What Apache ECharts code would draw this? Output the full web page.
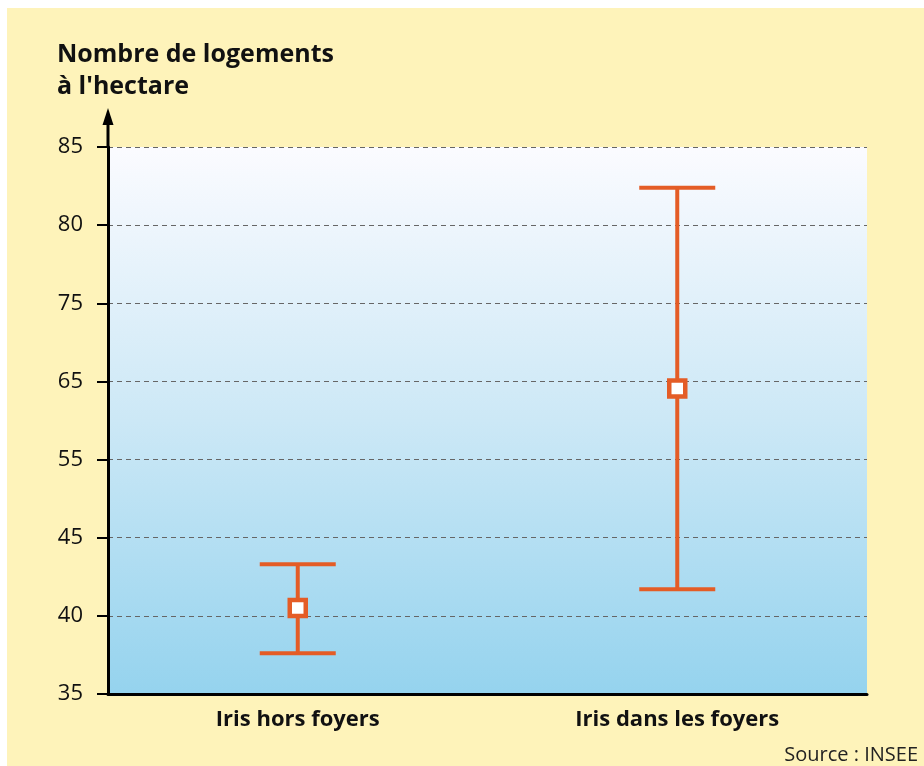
<!DOCTYPE html>
<html><head><meta charset="utf-8">
<script src="https://cdn.jsdelivr.net/npm/echarts@6/dist/echarts.min.js"></script>
<style>
html,body{margin:0;padding:0;background:#fff;width:924px;height:766px;overflow:hidden}
#c{position:absolute;left:7px;top:8px;width:917px;height:758px;background:#FEF3BA}
</style></head>
<body><div id="c"></div>
<script>
const categories = ['Iris hors foyers', 'Iris dans les foyers'];
const lowValues = [37.6, 41.7];
const midValues = [40.5, 64.1];
const highValues = [43.3, 82.4];
const tickLabels = [35, 40, 45, 55, 65, 75, 80, 85];

// map a real value onto the (non-linear, evenly spaced) tick scale of the axis
function toAxis(v) {
  for (let i = 0; i < tickLabels.length - 1; i++) {
    const a = tickLabels[i], b = tickLabels[i + 1];
    if (v >= a && v <= b) return i + (v - a) / (b - a);
  }
  return v < tickLabels[0] ? 0 : tickLabels.length - 1;
}

const data = categories.map((c, i) => [i, toAxis(lowValues[i]), toAxis(midValues[i]), toAxis(highValues[i])]);
const ORANGE = '#E45C26';

const chart = echarts.init(document.getElementById('c'), null, {renderer: 'canvas'});
chart.setOption({
  animation: false,
  backgroundColor: '#FEF3BA',
  title: {
    text: "Nombre de logements\nà l'hectare",
    left: 45, top: 26,
    textStyle: {fontFamily: 'Open Sans', fontWeight: 'bold', fontSize: 25, lineHeight: 32, color: '#111'}
  },
  grid: {
    left: 101, right: 57, top: 139, bottom: 72,
    show: true, borderWidth: 0,
    backgroundColor: new echarts.graphic.LinearGradient(0, 0, 0, 1, [
      {offset: 0, color: '#FBFBFF'},
      {offset: 0.5, color: '#CCE8F6'},
      {offset: 1, color: '#95D3EE'}
    ])
  },
  xAxis: {
    type: 'category',
    data: categories,
    boundaryGap: true,
    axisLine: {lineStyle: {color: '#000', width: 3}},
    axisTick: {alignWithLabel: true, length: 7, lineStyle: {color: '#000', width: 2}},
    axisLabel: {margin: 15, fontFamily: 'Open Sans', fontWeight: 'bold', fontSize: 22, color: '#111'},
    splitLine: {show: false}
  },
  yAxis: {
    type: 'value',
    min: 0, max: tickLabels.length - 1, interval: 1,
    axisLine: {show: true, lineStyle: {color: '#000', width: 3}},
    axisTick: {show: true, length: 11, lineStyle: {color: '#000', width: 2}},
    axisLabel: {
      margin: 25, fontFamily: 'Open Sans', fontSize: 22, color: '#111',
      formatter: v => String(tickLabels[Math.round(v)])
    },
    splitLine: {show: true, lineStyle: {color: '#666', type: [5, 4], width: 1}}
  },
  graphic: [
    {type: 'line', shape: {x1: 101, y1: 140, x2: 101, y2: 106}, style: {stroke: '#000', lineWidth: 3}, z: 100},
    {type: 'polygon', shape: {points: [[101, 100], [95.5, 117], [106.5, 117]]}, style: {fill: '#000'}, z: 100},
    {type: 'text', right: 6, bottom: 1, style: {text: 'Source : INSEE', fontFamily: 'Open Sans', fontSize: 20, fill: '#222'}}
  ],
  series: [{
    type: 'custom',
    data: data,
    z: 10,
    renderItem: function (params, api) {
      const x = api.value(0);
      const pLow = api.coord([x, api.value(1)]);
      const pMid = api.coord([x, api.value(2)]);
      const pHigh = api.coord([x, api.value(3)]);
      const capHalf = 38, sq = 8;
      const style = {stroke: ORANGE, lineWidth: 4, fill: null};
      return {
        type: 'group',
        children: [
          {type: 'line', shape: {x1: pLow[0], y1: pLow[1], x2: pHigh[0], y2: pHigh[1]}, style: style},
          {type: 'line', shape: {x1: pLow[0] - capHalf, y1: pLow[1], x2: pLow[0] + capHalf, y2: pLow[1]}, style: style},
          {type: 'line', shape: {x1: pHigh[0] - capHalf, y1: pHigh[1], x2: pHigh[0] + capHalf, y2: pHigh[1]}, style: style},
          {type: 'rect', shape: {x: pMid[0] - sq, y: pMid[1] - sq, width: 2 * sq, height: 2 * sq},
           style: {stroke: ORANGE, lineWidth: 4.5, fill: '#fff'}}
        ]
      };
    }
  }]
});
</script></body></html>
